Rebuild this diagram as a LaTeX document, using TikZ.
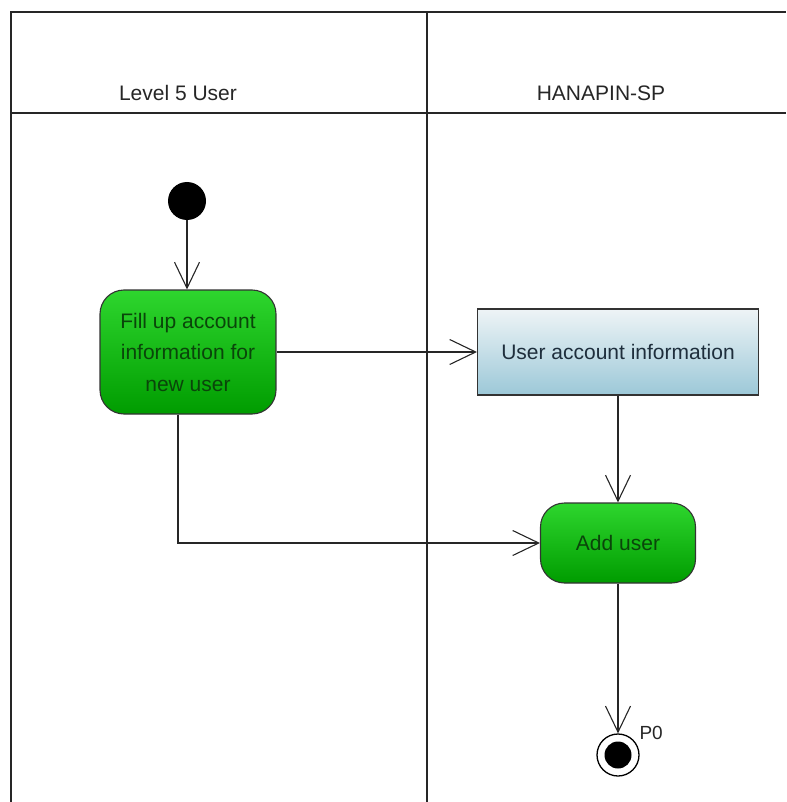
\documentclass[tikz,border=0pt]{standalone}
\usepackage{fontspec}
\setmainfont{Liberation Sans}
\usetikzlibrary{arrows.meta,shapes.misc}
\definecolor{gtop}{HTML}{2ED62E}
\definecolor{gbot}{HTML}{009C00}
\definecolor{gtext}{HTML}{0A450A}
\definecolor{btop}{HTML}{EEF4F6}
\definecolor{bbot}{HTML}{9CC8D8}
\definecolor{btext}{HTML}{1E2E3C}
\tikzset{
  lane/.style={line width=1.2pt, draw=black!85},
  action/.style={draw=black!80, line width=1.1pt, rounded corners=24pt,
    top color=gtop, bottom color=gbot, text=gtext, align=center,
    font=\fontsize{21}{31.5}\selectfont, inner sep=0pt},
  objbox/.style={draw=black!80, line width=1.1pt,
    top color=btop, bottom color=bbot, text=btext, align=center,
    font=\fontsize{21}{30}\selectfont, inner sep=0pt},
  flow/.style={line width=1.1pt, draw=black!85,
    -{Straight Barb[length=26pt,width=25pt,line width=1.1pt]}},
  head/.style={font=\fontsize{21}{24}\selectfont, text=black!85}
}
\begin{document}
\begin{tikzpicture}[x=1pt,y=-1pt]
\useasboundingbox (0,0) rectangle (786,802);
% swimlane frame
\draw[lane] (11,802) -- (11,12) -- (786,12);
\draw[lane] (11,113) -- (786,113);
\draw[lane] (427,12) -- (427,802);
\node[head] (h1) at (178,93) {Level 5 User};
\node[head] (h2) at (601,93) {HANAPIN-SP};
% initial node
\node[circle, fill=black, minimum size=38pt, inner sep=0pt] (start) at (187,201) {};
% actions and object
\node[action, minimum width=176pt, minimum height=124pt] (fill) at (188,352)
  {Fill up account\\information for\\new user};
\node[objbox, minimum width=281pt, minimum height=86pt] (info) at (618,352)
  {User account information};
\node[action, minimum width=155pt, minimum height=80pt] (add) at (618,543) {Add user};
% final node
\node[circle, draw=black, line width=1.3pt, fill=white, minimum size=42pt, inner sep=0pt] (final) at (618,755) {};
\node[circle, fill=black, minimum size=27pt, inner sep=0pt] (finalin) at (final) {};
\node[font=\fontsize{19}{22}\selectfont, text=black!85, anchor=west] (p0) at (636,733) {P0};
% control and object flows
\draw[flow] (start) -- (fill.north -| start);
\draw[flow] (fill.east) -- (info.west);
\draw[flow] (info.south) -- (add.north);
\draw[flow] (fill.south -| 178,0) |- (add.west);
\draw[flow] (add.south) -- (final.north);
\end{tikzpicture}
\end{document}
